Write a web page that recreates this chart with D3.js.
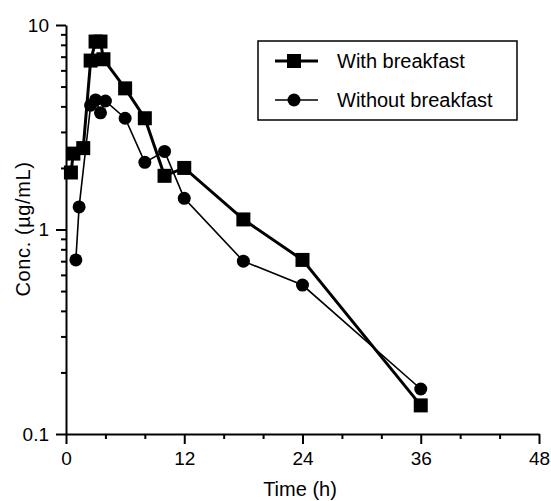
<!DOCTYPE html>
<html lang="en">
<head>
    <meta charset="UTF-8">
    <title>Conc. vs Time</title>
    <script src="https://d3js.org/d3.v7.min.js"></script>
    <style>
        body { margin: 0; background: #fff; }
        text { font-family: "Liberation Sans", Arial, Helvetica, sans-serif; fill: #000; }
    </style>
</head>
<body>
    <svg width="551" height="501"></svg>
    <script>
        // time (h) and concentration (ug/mL)
        const withTime = [0.5, 0.75, 1.75, 2.5, 3, 3.5, 3.8, 6, 8, 10, 12, 18, 24, 36];
        const withConc = [1.9, 2.35, 2.5, 6.7, 8.3, 8.3, 6.8, 4.9, 3.5, 1.83, 2.0, 1.12, 0.71, 0.138];
        const withoutTime = [1, 1.33, 2.5, 3, 3.5, 4, 6, 8, 10, 12, 18, 24, 36];
        const withoutConc = [0.71, 1.29, 4.05, 4.3, 3.72, 4.25, 3.5, 2.13, 2.41, 1.42, 0.70, 0.535, 0.166];
        const seriesNames = ["With breakfast", "Without breakfast"];
        const xTicks = [0, 12, 24, 36, 48];
        const yTicks = [0.1, 1, 10];

        const svg = d3.select("svg");
        const x = d3.scaleLinear().domain([0, 48]).range([66, 539]);
        const y = d3.scaleLog().domain([0.1, 10]).range([434, 25]);

        const xMinor = d3.range(0, 49, 4).filter(d => d % 12 !== 0);
        const yMinor = [];
        [0.1, 1].forEach(b => { for (let k = 2; k <= 9; k++) yMinor.push(b * k); });

        const fmt = d => d < 1 ? "0.1" : String(d);

        // x axis
        const gx = svg.append("g").attr("transform", "translate(0,434)");
        gx.call(d3.axisBottom(x).tickValues(xTicks).tickSize(10).tickPadding(8).tickSizeOuter(0));
        gx.append("g").call(d3.axisBottom(x).tickValues(xMinor).tickSize(5).tickFormat(""))
            .select(".domain").remove();
        // y axis
        const gy = svg.append("g").attr("transform", "translate(66,0)");
        gy.call(d3.axisLeft(y).tickValues(yTicks).tickFormat(fmt).tickSize(10).tickPadding(7).tickSizeOuter(0));
        gy.append("g").call(d3.axisLeft(y).tickValues(yMinor).tickSize(5).tickFormat(""))
            .select(".domain").remove();

        svg.selectAll(".domain, .tick line").attr("stroke", "#000").attr("stroke-width", 2);
        svg.selectAll(".tick text").attr("font-size", 19).attr("font-family", "Liberation Sans, Arial, sans-serif");

        svg.append("text").attr("x", 300).attr("y", 496).attr("text-anchor", "middle")
            .attr("font-size", 20).text("Time (h)");
        svg.append("text").attr("transform", "translate(30,229) rotate(-90)").attr("text-anchor", "middle")
            .attr("font-size", 20).attr("letter-spacing", 0.6).text("Conc. (\u00b5g/mL)");

        const withData = withTime.map((t, i) => [t, withConc[i]]);
        const withoutData = withoutTime.map((t, i) => [t, withoutConc[i]]);
        const line = d3.line().x(d => x(d[0])).y(d => y(d[1]));

        svg.append("path").datum(withoutData).attr("d", line)
            .attr("fill", "none").attr("stroke", "#000").attr("stroke-width", 1.6);
        svg.append("path").datum(withData).attr("d", line)
            .attr("fill", "none").attr("stroke", "#000").attr("stroke-width", 3);

        const sq = 14;
        svg.selectAll("circle.pt").data(withoutData).enter().append("circle")
            .attr("cx", d => x(d[0])).attr("cy", d => y(d[1])).attr("r", 6.5).attr("fill", "#000");
        svg.selectAll("rect.pt").data(withData).enter().append("rect")
            .attr("x", d => x(d[0]) - sq / 2).attr("y", d => y(d[1]) - sq / 2)
            .attr("width", sq).attr("height", sq).attr("fill", "#000");

        // legend
        const lg = svg.append("g");
        lg.append("rect").attr("x", 258).attr("y", 41).attr("width", 259).attr("height", 79)
            .attr("fill", "#fff").attr("stroke", "#000").attr("stroke-width", 1.5);
        seriesNames.forEach((name, i) => {
            const cy = 61 + i * 39;
            lg.append("line").attr("x1", 275).attr("x2", 318).attr("y1", cy).attr("y2", cy)
                .attr("stroke", "#000").attr("stroke-width", i === 0 ? 3 : 1.6);
            if (i === 0) {
                lg.append("rect").attr("x", 294 - sq / 2).attr("y", cy - sq / 2)
                    .attr("width", sq).attr("height", sq).attr("fill", "#000");
            } else {
                lg.append("circle").attr("cx", 294).attr("cy", cy).attr("r", 6.5).attr("fill", "#000");
            }
            lg.append("text").attr("x", 337).attr("y", cy + 7).attr("font-size", 20).text(name);
        });
    </script>
</body>
</html>
